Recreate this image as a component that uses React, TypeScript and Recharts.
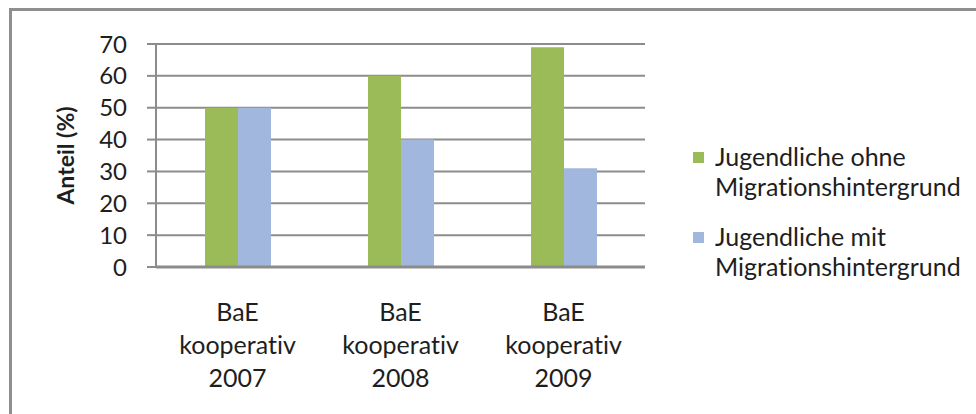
import React from 'react';
import { BarChart, Bar, XAxis, YAxis, CartesianGrid, Label } from 'recharts';

const categories = ['BaE kooperativ 2007', 'BaE kooperativ 2008', 'BaE kooperativ 2009'];
const ohneMigration = [50, 60, 69];
const mitMigration = [50, 40, 31];
const yTicks = [0, 10, 20, 30, 40, 50, 60, 70];
const seriesNames = ['Jugendliche ohne Migrationshintergrund', 'Jugendliche mit Migrationshintergrund'];

const GREEN = '#9bbb59';
const BLUE = '#a2b7de';
const GRID = '#8c8c8c';
const FONT = 'Lato, "Open Sans", sans-serif';

const chartData = categories.map((name, i) => ({
  name,
  ohne: ohneMigration[i],
  mit: mitMigration[i],
}));

const CategoryTick = (props: any) => {
  const { x, y, payload } = props;
  const words = String(payload.value).split(' ');
  return (
    <g transform={`translate(${x},${y})`}>
      {words.map((w, i) => (
        <text
          key={i}
          x={0}
          y={46 + i * 33}
          textAnchor="middle"
          fill="#1e1e1e"
          fontSize={25}
          fontFamily={FONT}
          style={{ fontVariantLigatures: 'none' }}
        >
          {w}
        </text>
      ))}
    </g>
  );
};

const LegendBox = () => {
  const colors = [GREEN, BLUE];
  return (
    <div style={{ position: 'absolute', left: 693, top: 141, width: 283, fontFamily: FONT, fontSize: 25, color: '#1e1e1e', lineHeight: '30px', fontVariantLigatures: 'none' }}>
      {seriesNames.map((s, i) => {
        const first = s.split(' ').slice(0, 2).join(' ');
        const second = s.split(' ').slice(2).join(' ');
        return (
          <div key={s} style={{ position: 'relative', paddingLeft: 22, marginBottom: i === 0 ? 20 : 0, whiteSpace: 'nowrap' }}>
            <span style={{ position: 'absolute', left: 0, top: 11, width: 11, height: 11, background: colors[i] }} />
            <div>{first}</div>
            <div>{second}</div>
          </div>
        );
      })}
    </div>
  );
};

const App = () => {
  return (
    <div style={{ position: 'absolute', left: 0, top: 0, width: 976, height: 414, background: '#fff', overflow: 'hidden' }}>
      <div style={{ position: 'absolute', left: 9, top: 8, width: 980, height: 420, borderTop: '3px solid #8f8f8f', borderLeft: '3px solid #8f8f8f' }} />
      <BarChart
        width={976}
        height={414}
        data={chartData}
        margin={{ top: 44, right: 331, bottom: 27, left: 96 }}
        barSize={33}
        barGap={0}
        style={{ position: 'absolute', left: 0, top: 0 }}
      >
        <CartesianGrid vertical={false} stroke={GRID} strokeWidth={2} />
        <XAxis
          dataKey="name"
          height={120}
          tick={<CategoryTick />}
          tickLine={false}
          axisLine={{ stroke: GRID, strokeWidth: 3 }}
          interval={0}
        />
        <YAxis
          width={60}
          domain={[0, 70]}
          ticks={yTicks}
          interval={0}
          tickSize={9}
          tickMargin={20}
          tick={{ fill: '#1e1e1e', fontSize: 24, fontFamily: FONT }}
          axisLine={{ stroke: GRID, strokeWidth: 2 }}
          tickLine={{ stroke: GRID, strokeWidth: 2 }}
        >
          <Label
            value="Anteil (%)"
            angle={-90}
            position="insideLeft"
            offset={-30}
            style={{ fontFamily: FONT, fontSize: 23, fontWeight: 700, fill: '#1e1e1e', textAnchor: 'middle' }}
          />
        </YAxis>
        <Bar dataKey="ohne" name={seriesNames[0]} fill={GREEN} isAnimationActive={false} />
        <Bar dataKey="mit" name={seriesNames[1]} fill={BLUE} isAnimationActive={false} />
      </BarChart>
      <LegendBox />
    </div>
  );
};

export default App;
